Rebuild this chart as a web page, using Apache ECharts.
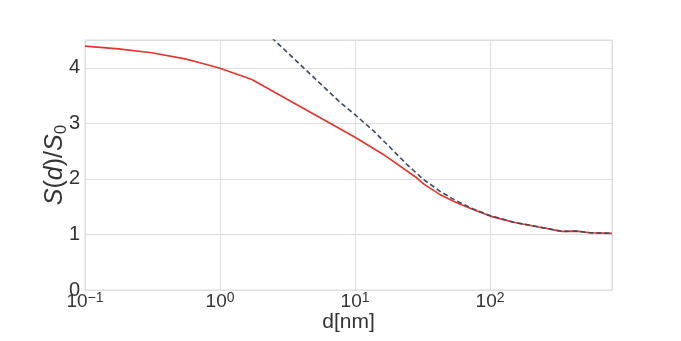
<!DOCTYPE html>
<html>
<head>
<meta charset="utf-8">
<script src="https://cdn.jsdelivr.net/npm/echarts@6/dist/echarts.min.js"></script>
<style>
  html, body { margin: 0; padding: 0; background: #fff; }
  #chart { width: 681px; height: 341px; }
</style>
</head>
<body>
<div id="chart"></div>
<script>
// values
const dRed = [0.1, 0.177, 0.312, 0.551, 0.71, 1.0, 1.72, 10, 16.2, 28.6, 32.5, 42.4, 56.6, 75, 100, 149, 235, 340, 438, 550, 800];
const sRed = [4.39, 4.34, 4.27, 4.16, 4.09, 3.99, 3.79, 2.75, 2.44, 2.02, 1.90, 1.72, 1.57, 1.45, 1.33, 1.22, 1.13, 1.055, 1.06, 1.03, 1.02];

const dDash = [2.0, 2.52, 7.74, 10, 13.7, 18.2, 24.2, 32.1, 42.4, 56.6, 75, 100, 149, 235, 340, 438, 550, 800];
const sDash = [4.75, 4.5, 3.38, 3.155, 2.865, 2.565, 2.26, 1.99, 1.78, 1.60, 1.46, 1.34, 1.22, 1.13, 1.055, 1.06, 1.03, 1.02];

const xMin = 0.1, xMax = 800;
const yTicks = [0, 1, 2, 3, 4];

const font = "Liberation Sans";
const gridColor = "#dedede";
const textColor = "#333";

function pairs(xs, ys) {
  return xs.map((x, i) => [x, ys[i]]);
}

const chart = echarts.init(document.getElementById("chart"));

chart.setOption({
  animation: false,
  textStyle: { fontFamily: font },
  grid: {
    left: 85,
    right: 69,
    top: 40,
    bottom: 51,
    outerBoundsMode: "none",
    show: true,
    borderColor: gridColor,
    borderWidth: 1
  },
  xAxis: {
    type: "log",
    logBase: 10,
    min: xMin,
    max: xMax,
    name: "d[nm]",
    nameLocation: "middle",
    nameGap: 22,
    nameMoveOverlap: false,
    nameTextStyle: { fontSize: 21, color: textColor, fontFamily: font },
    axisLine: { show: true, lineStyle: { color: gridColor } },
    axisTick: { show: false },
    minorTick: { show: false },
    splitLine: { show: true, lineStyle: { color: gridColor } },
    axisLabel: {
      margin: 1,
      showMaxLabel: false,
      formatter: function (v) {
        const e = Math.round(Math.log10(v));
        if (Math.abs(Math.log10(v) - e) > 1e-6) return "";
        const exp = e < 0 ? "\u2212" + (-e) : String(e);
        return "{b|10}{s|" + exp + "}";
      },
      rich: {
        b: { fontSize: 19, color: textColor, fontFamily: font, lineHeight: 20, verticalAlign: "bottom" },
        s: { fontSize: 14, color: textColor, fontFamily: font, lineHeight: 20, verticalAlign: "top", padding: [0, 0, 8, 0] }
      }
    }
  },
  yAxis: {
    type: "value",
    min: 0,
    max: 4.5,
    interval: 1,
    name: "{i|S}{n|(}{i|d}{n|)/}{i|S}{sub|0}",
    nameLocation: "middle",
    nameRotate: 90,
    nameGap: 15,
    nameMoveOverlap: false,
    nameTextStyle: {
      rich: {
        i: { fontSize: 25, fontStyle: "italic", color: textColor, fontFamily: font, lineHeight: 30 },
        n: { fontSize: 25, color: textColor, fontFamily: font, lineHeight: 30 },
        sub: { fontSize: 17, color: textColor, fontFamily: font, lineHeight: 30, verticalAlign: "bottom", padding: [8, 0, 0, 0] }
      }
    },
    axisLine: { show: true, lineStyle: { color: gridColor } },
    axisTick: { show: false },
    splitLine: { show: true, lineStyle: { color: gridColor } },
    axisLabel: {
      fontSize: 20,
      color: textColor,
      margin: 5,
      showMaxLabel: false,
      formatter: function (v) {
        return yTicks.indexOf(v) >= 0 ? String(v) : "";
      }
    }
  },
  series: [
    {
      name: "model",
      type: "line",
      data: pairs(dDash, sDash),
      showSymbol: false,
      clip: true,
      lineStyle: { color: "#3b4a5e", width: 1.6, type: [5, 3] },
      z: 3
    },
    {
      name: "measured",
      type: "line",
      data: pairs(dRed, sRed),
      showSymbol: false,
      clip: true,
      lineStyle: { color: "#e3342f", width: 1.6 },
      z: 2
    }
  ]
});
</script>
</body>
</html>
